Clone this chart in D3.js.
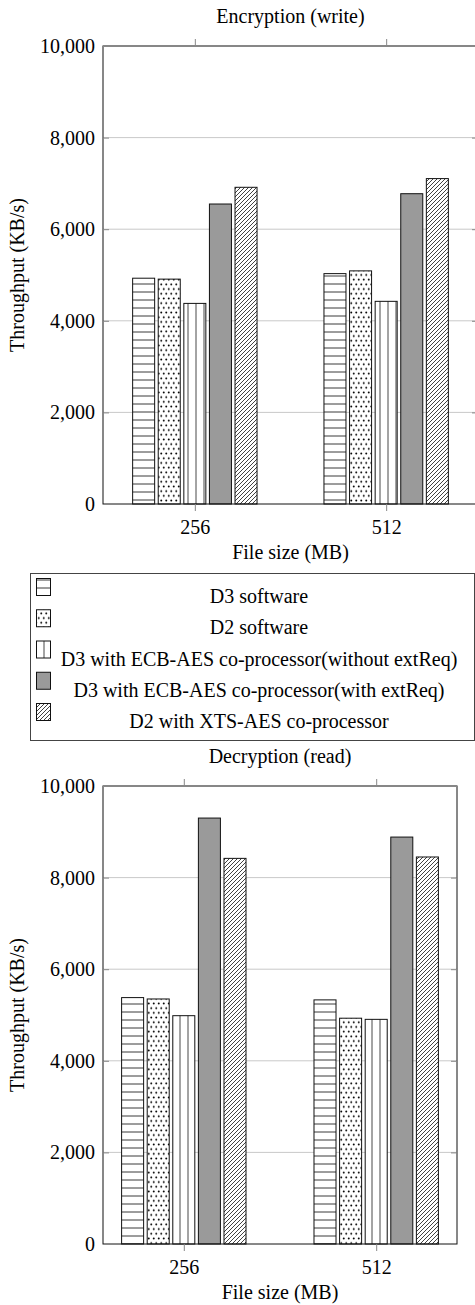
<!DOCTYPE html>
<html>
<head>
<meta charset="utf-8">
<script src="https://cdn.jsdelivr.net/npm/d3@7"></script>
<style>
  html, body { margin: 0; padding: 0; background: #fff; }
  svg { display: block; }
</style>
</head>
<body>
<svg id="chart" width="475" height="1305"></svg>
<script>
// File sizes on the x axis
const fileSizes = ["256", "512"];

// Series names, in drawing order
const seriesNames = [
  "D3 software",
  "D2 software",
  "D3 with ECB-AES co-processor(without extReq)",
  "D3 with ECB-AES co-processor(with extReq)",
  "D2 with XTS-AES co-processor"
];

// Throughput (KB/s), one array per series: [256 MB, 512 MB]
const writeD3Software   = [4930, 5030];
const writeD2Software   = [4910, 5090];
const writeD3EcbNoExt   = [4380, 4425];
const writeD3EcbExt     = [6550, 6775];
const writeD2Xts        = [6915, 7105];

const readD3Software    = [5380, 5330];
const readD2Software    = [5350, 4930];
const readD3EcbNoExt    = [4985, 4905];
const readD3EcbExt      = [9300, 8885];
const readD2Xts         = [8420, 8450];

const yTicks = [0, 2000, 4000, 6000, 8000, 10000];

const writeSeries = [writeD3Software, writeD2Software, writeD3EcbNoExt, writeD3EcbExt, writeD2Xts];
const readSeries  = [readD3Software, readD2Software, readD3EcbNoExt, readD3EcbExt, readD2Xts];

// Fill for each series: patterns or solid gray
const fills = ["url(#hlines)", "url(#dots)", "url(#vlines)", "#9a9a9a", "url(#nelines)"];

const FONT = '"Liberation Serif"';

const svg = d3.select("#chart").style("font-family", FONT);
const defs = svg.append("defs");

// Horizontal lines
const ph = defs.append("pattern").attr("id", "hlines").attr("patternUnits", "userSpaceOnUse")
  .attr("width", 8).attr("height", 8);
ph.append("rect").attr("width", 8).attr("height", 8).attr("fill", "#fff");
ph.append("line").attr("x1", 0).attr("x2", 8).attr("y1", 4).attr("y2", 4)
  .attr("stroke", "#222").attr("stroke-width", 0.9);

// Dots
const pd = defs.append("pattern").attr("id", "dots").attr("patternUnits", "userSpaceOnUse")
  .attr("width", 5).attr("height", 9.4);
pd.append("rect").attr("width", 5).attr("height", 9.4).attr("fill", "#fff");
pd.append("circle").attr("cx", 1.25).attr("cy", 2.35).attr("r", 1).attr("fill", "#000");
pd.append("circle").attr("cx", 3.75).attr("cy", 7.05).attr("r", 1).attr("fill", "#000");

// Vertical lines
const pv = defs.append("pattern").attr("id", "vlines").attr("patternUnits", "userSpaceOnUse")
  .attr("width", 8).attr("height", 8);
pv.append("rect").attr("width", 8).attr("height", 8).attr("fill", "#fff");
pv.append("line").attr("x1", 4).attr("x2", 4).attr("y1", 0).attr("y2", 8)
  .attr("stroke", "#333").attr("stroke-width", 0.9);

// North-east lines
const pn = defs.append("pattern").attr("id", "nelines").attr("patternUnits", "userSpaceOnUse")
  .attr("width", 4).attr("height", 4);
pn.append("rect").attr("width", 4).attr("height", 4).attr("fill", "#fff");
pn.append("path").attr("d", "M-1,5 L5,-1 M-1,1 L1,-1 M3,5 L5,3")
  .attr("stroke", "#111").attr("stroke-width", 0.8);

function styleText(sel) {
  sel.attr("font-size", 20).style("font-family", FONT).attr("fill", "#000");
}

function drawPanel(opts) {
  const { title, series, left, right, top, bottom, padding } = opts;
  const g = svg.append("g");

  const x = d3.scalePoint().domain(fileSizes).range([left, right]).padding(padding);
  const y = d3.scaleLinear().domain([0, 10000]).range([bottom, top]);
  const inner = d3.scaleBand().domain(d3.range(series.length))
    .range([-62.2, 62.2]).paddingInner(0.14).paddingOuter(0);

  // Grid lines
  g.append("g").selectAll("line").data(yTicks.filter(t => t > 0 && t < 10000)).join("line")
    .attr("x1", left).attr("x2", right)
    .attr("y1", d => y(d)).attr("y2", d => y(d))
    .attr("stroke", "#c9c9c9").attr("stroke-width", 1);

  // Bars
  series.forEach((vals, si) => {
    g.append("g").selectAll("rect").data(vals).join("rect")
      .attr("x", (d, i) => x(fileSizes[i]) + inner(si))
      .attr("width", inner.bandwidth())
      .attr("y", d => y(d))
      .attr("height", d => y(0) - y(d))
      .attr("fill", fills[si])
      .attr("stroke", "#111").attr("stroke-width", 1);
  });

  // Frame
  g.append("rect").attr("x", left).attr("y", top)
    .attr("width", right - left).attr("height", bottom - top)
    .attr("fill", "none").attr("stroke", "#111").attr("stroke-width", 1);

  // Y axis (left) with inward ticks
  const yAxis = d3.axisLeft(y).tickValues(yTicks).tickSize(-6).tickPadding(8)
    .tickFormat(d3.format(","));
  const ya = g.append("g").attr("transform", `translate(${left},0)`).call(yAxis)
    .attr("font-family", null).attr("font-size", null);
  ya.select(".domain").remove();
  ya.selectAll(".tick line").attr("stroke", "#888");
  styleText(ya.selectAll(".tick text"));

  // Right-side inward ticks
  const yr = g.append("g").attr("transform", `translate(${right},0)`)
    .call(d3.axisRight(y).tickValues(yTicks).tickSize(-6).tickFormat(""));
  yr.select(".domain").remove();
  yr.selectAll(".tick line").attr("stroke", "#888");

  // X axis with outward ticks
  const xa = g.append("g").attr("transform", `translate(0,${bottom})`)
    .call(d3.axisBottom(x).tickSize(7).tickPadding(9))
    .attr("font-family", null).attr("font-size", null);
  xa.select(".domain").remove();
  xa.selectAll(".tick line").attr("stroke", "#888");
  styleText(xa.selectAll(".tick text"));

  const xt = g.append("g").attr("transform", `translate(0,${top})`)
    .call(d3.axisTop(x).tickSize(7).tickFormat(""));
  xt.select(".domain").remove();
  xt.selectAll(".tick line").attr("stroke", "#888");

  // Titles and axis labels
  styleText(g.append("text").attr("x", (left + right) / 2).attr("y", top - 23)
    .attr("text-anchor", "middle").text(title));
  styleText(g.append("text").attr("x", (left + right) / 2).attr("y", bottom + 55)
    .attr("text-anchor", "middle").text("File size (MB)"));
  styleText(g.append("text")
    .attr("transform", `translate(24,${(top + bottom) / 2}) rotate(-90)`)
    .attr("text-anchor", "middle").text("Throughput (KB/s)"));
}

drawPanel({ title: "Encryption (write)", series: writeSeries,
  left: 103, right: 478, top: 46, bottom: 504, padding: 0.48 });
drawPanel({ title: "Decryption (read)", series: readSeries,
  left: 103, right: 457, top: 786, bottom: 1244, padding: 0.42 });

// Legend
const legend = svg.append("g");
legend.append("rect").attr("x", 30.5).attr("y", 573.5).attr("width", 444).attr("height", 167)
  .attr("fill", "#fff").attr("stroke", "#444").attr("stroke-width", 1);
const rowY = d3.scaleLinear().domain([0, 4]).range([597, 722]);
seriesNames.forEach((name, i) => {
  legend.append("rect").attr("x", 36.5).attr("y", rowY(i) - 18.5)
    .attr("width", 14).attr("height", 17)
    .attr("fill", fills[i]).attr("stroke", "#111").attr("stroke-width", 1);
  styleText(legend.append("text").attr("x", 259).attr("y", rowY(i) + 6)
    .attr("text-anchor", "middle").text(name));
});
</script>
</body>
</html>
